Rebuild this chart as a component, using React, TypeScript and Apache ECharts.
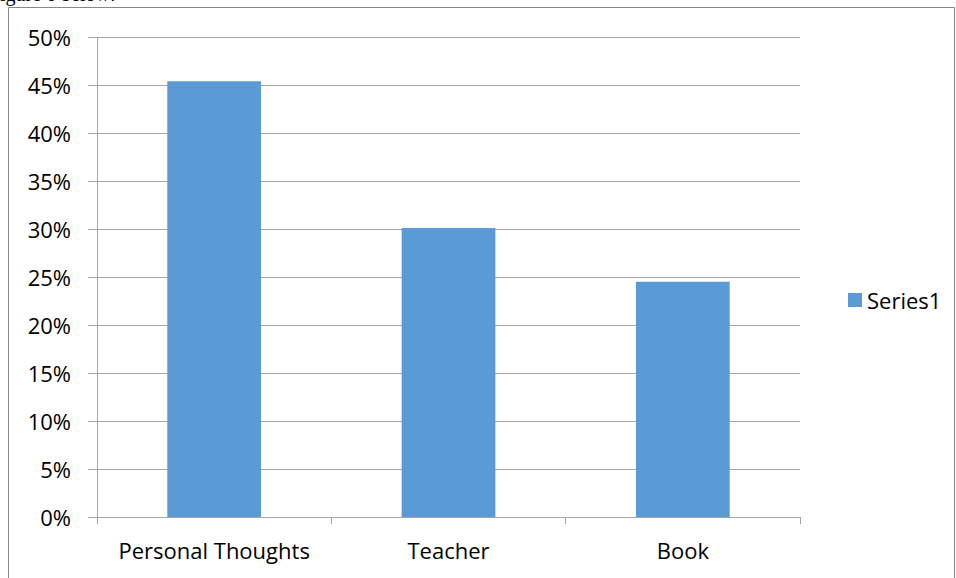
import React, { useEffect, useRef } from "react";
import * as echarts from "echarts";

const categories = ["Personal Thoughts", "Teacher", "Book"];
const seriesName = "Series1";
const values = [45.4, 30.1, 24.5];
const yTicks = { min: 0, max: 50, interval: 5 };

export default function App() {
  const ref = useRef<HTMLDivElement>(null);
  useEffect(() => {
    if (!ref.current) return;
    const chart = echarts.init(ref.current, null, { renderer: "svg" });
    chart.setOption({
      animation: false,
      textStyle: { fontFamily: "Open Sans" },
      graphic: [
        {
          type: "rect",
          shape: { x: 8.5, y: 7.5, width: 946, height: 600 },
          style: { fill: "none", stroke: "#888888", lineWidth: 1 },
          silent: true,
        },
        {
          type: "text",
          x: 0,
          y: 4,
          style: {
            text: "igure 6 below:",
            font: "20px 'Liberation Serif'",
            fill: "#000",
            verticalAlign: "bottom",
          },
          silent: true,
        },
      ],
      legend: {
        show: true,
        orient: "vertical",
        left: 843,
        top: 283,
        itemWidth: 14,
        itemHeight: 14,
        itemGap: 8,
        itemTextGap: 6,
        icon: "rect",
        textStyle: { fontSize: 22, lineHeight: 24, color: "#000", fontFamily: "Open Sans" },
        data: [seriesName],
      },
      grid: { left: 97, right: 156, top: 37, bottom: 61, containLabel: false },
      xAxis: {
        type: "category",
        data: categories,
        axisLine: { lineStyle: { color: "#a6a6a6" } },
        axisTick: { show: true, interval: 0, length: 7, alignWithLabel: false, lineStyle: { color: "#a6a6a6" } },
        axisLabel: { interval: 0, fontSize: 22, color: "#000", margin: 22, fontFamily: "Open Sans" },
      },
      yAxis: {
        type: "value",
        min: yTicks.min,
        max: yTicks.max,
        interval: yTicks.interval,
        axisLine: { show: true, lineStyle: { color: "#a6a6a6" } },
        axisTick: { show: true, length: 9, lineStyle: { color: "#a6a6a6" } },
        splitLine: { lineStyle: { color: "#a6a6a6" } },
        axisLabel: {
          fontSize: 22,
          color: "#000",
          margin: 26,
          fontFamily: "Open Sans",
          formatter: (v: number) => `${v}%`,
        },
      },
      series: [
        {
          name: seriesName,
          type: "bar",
          data: values,
          barWidth: "40%",
          itemStyle: { color: "#5B9BD5" },
        },
      ],
    });
    return () => chart.dispose();
  }, []);
  return (
    <div
      ref={ref}
      style={{ position: "absolute", left: 0, top: 0, width: 956, height: 578, background: "#fff" }}
    />
  );
}
